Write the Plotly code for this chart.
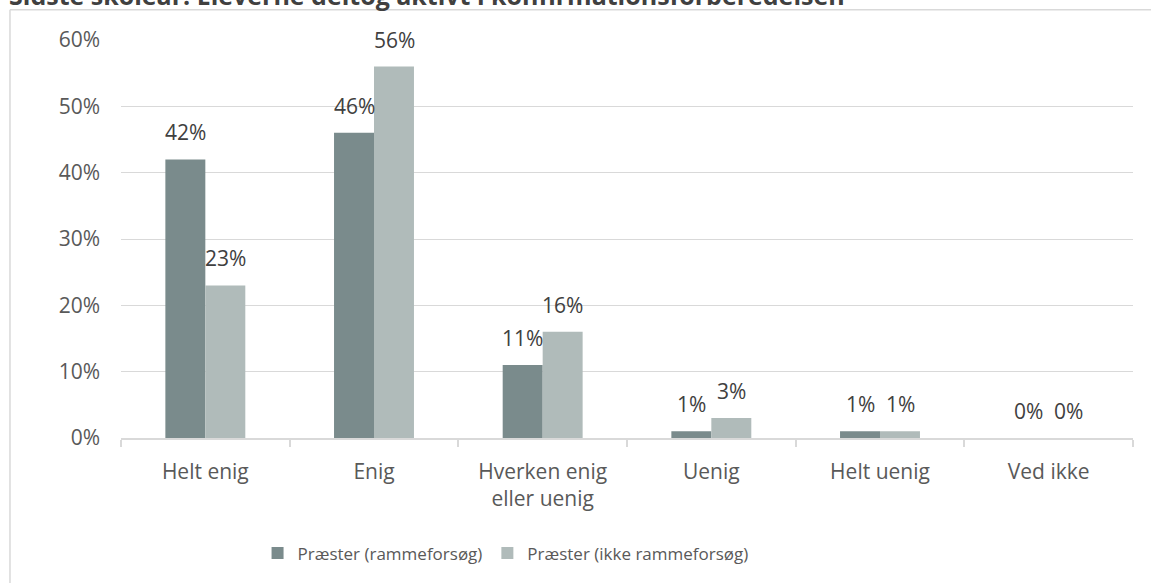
import plotly.graph_objects as go

categories = ["Helt enig", "Enig", "Hverken enig<br>eller uenig", "Uenig", "Helt uenig", "Ved ikke"]
series_names = ["Præster (rammeforsøg)", "Præster (ikke rammeforsøg)"]
rammeforsoeg = [0.42, 0.46, 0.11, 0.01, 0.01, 0.00]
ikke_rammeforsoeg = [0.23, 0.56, 0.16, 0.03, 0.01, 0.00]
y_ticks = [0, 0.1, 0.2, 0.3, 0.4, 0.5, 0.6]
y_ticklabels = ["0%", "10%", "20%", "30%", "40%", "50%", "60%"]
title_text = "Sidste skoleår: Eleverne deltog aktivt i konfirmationsforberedelsen"

colors = ["#7a8b8c", "#b0bbba"]
FONT = "Open Sans"

fig = go.Figure()
for name, vals, col in zip(series_names, [rammeforsoeg, ikke_rammeforsoeg], colors):
    fig.add_trace(go.Bar(x=categories, y=vals, name=name, marker=dict(color=col, line=dict(width=0))))

# data labels above bars
annotations = []
for i, (vals, shift) in enumerate([(rammeforsoeg, -20), (ikke_rammeforsoeg, 20)]):
    for c, v in zip(categories, vals):
        annotations.append(dict(x=c, y=v, xref="x", yref="y", text=f"{round(v*100)}%",
                                showarrow=False, xshift=shift, yshift=27, yanchor="middle",
                                font=dict(family=FONT, size=21, color="#404040")))
annotations.append(dict(x=0, y=1, xref="paper", yref="paper", xanchor="left", yanchor="middle",
                        xshift=-114, yshift=45, text="<b>" + title_text + "</b>", showarrow=False,
                        font=dict(family=FONT, size=25, color="#404040")))

fig.update_layout(
    width=1151, height=583,
    margin=dict(l=121, r=18, t=40, b=141),
    paper_bgcolor="white", plot_bgcolor="white",
    barmode="group", bargap=0.526, bargroupgap=0,
    font=dict(family=FONT, size=21, color="#595959"),
    annotations=annotations,
    legend=dict(orientation="h", x=0.38, xanchor="center", y=-0.29, yanchor="middle",
                font=dict(family=FONT, size=17, color="#595959"), traceorder="normal"),
    shapes=[
        dict(type="line", xref="paper", yref="paper", x0=-0.1097, x1=-0.1097, y0=1.076, y1=-0.5,
             line=dict(color="#d9d9d9", width=1.5)),
        dict(type="line", xref="paper", yref="paper", x0=-0.1097, x1=1.1, y0=1.076, y1=1.076,
             line=dict(color="#d9d9d9", width=1.5)),
    ],
)
fig.update_yaxes(range=[0, 0.6], tickvals=y_ticks, ticktext=y_ticklabels, showgrid=True,
                 gridcolor="#d9d9d9", gridwidth=1.2, zeroline=False, showline=False,
                 ticklabelstandoff=20, tickfont=dict(size=21, color="#595959"))
fig.update_xaxes(showline=True, linecolor="#d9d9d9", linewidth=1.5, ticks="outside",
                 tickson="boundaries", ticklen=7, tickcolor="#d9d9d9", tickwidth=1.5,
                 ticklabelstandoff=14, tickfont=dict(size=21, color="#595959"))

fig.write_html("out.html", config={"displayModeBar": False},
               post_script="document.body.style.margin='0';document.body.style.overflow='hidden';")
